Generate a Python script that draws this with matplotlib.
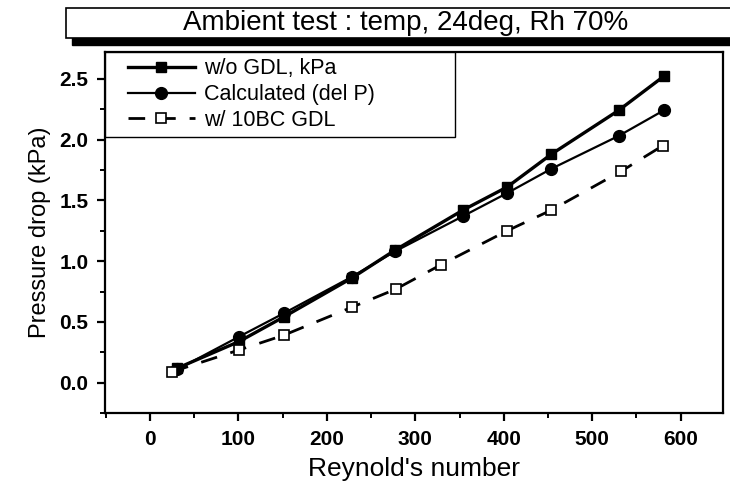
import matplotlib
matplotlib.use("Agg")
import matplotlib.pyplot as plt
from matplotlib.patches import Rectangle
from matplotlib.ticker import MultipleLocator
from matplotlib.legend_handler import HandlerLine2D
from matplotlib.lines import Line2D

plt.rcParams['font.family'] = ['Liberation Sans', 'DejaVu Sans']

# Data
re_wo = [31, 101, 151, 228, 277, 354, 404, 454, 530, 581]
dp_wo = [0.12, 0.34, 0.54, 0.86, 1.09, 1.42, 1.61, 1.88, 2.24, 2.52]
re_calc = [31, 101, 151, 228, 277, 354, 404, 454, 530, 581]
dp_calc = [0.11, 0.38, 0.57, 0.87, 1.08, 1.37, 1.56, 1.76, 2.03, 2.24]
re_gdl = [25, 101, 151, 228, 278, 329, 404, 454, 533, 580]
dp_gdl = [0.09, 0.27, 0.39, 0.62, 0.77, 0.97, 1.25, 1.42, 1.74, 1.95]
labels = ["w/o GDL, kPa", "Calculated (del P)", "w/ 10BC GDL"]
title = "Ambient test : temp, 24deg, Rh 70%"
x_ticks = [0, 100, 200, 300, 400, 500, 600]
y_ticks = [0.0, 0.5, 1.0, 1.5, 2.0, 2.5]

fig = plt.figure(figsize=(7.3, 4.86), dpi=100)
ax = fig.add_axes([0.1438, 0.150, 0.8466, 0.743])

ax.plot(re_wo, dp_wo, '-', color='black', lw=2.4, marker='s', ms=7,
        mfc='black', mec='black', label=labels[0])
ax.plot(re_calc, dp_calc, '-', color='black', lw=1.6, marker='o', ms=8.5,
        mfc='black', mec='black', label=labels[1])
ax.plot(re_gdl, dp_gdl, '--', color='black', lw=2.0, dashes=(6, 5), marker='s', ms=7.5,
        mfc='white', mec='black', mew=1.2, label=labels[2])

ax.set_xlim(-51, 648)
ax.set_ylim(-0.25, 2.72)
ax.set_xticks(x_ticks)
ax.set_yticks(y_ticks)
ax.set_yticklabels([f"{v:.1f}" for v in y_ticks])
ax.xaxis.set_minor_locator(MultipleLocator(50))
ax.yaxis.set_minor_locator(MultipleLocator(0.25))
ax.tick_params(which='major', direction='out', length=6, width=1.6, labelsize=15, pad=6)
ax.tick_params(which='minor', direction='out', length=3.5, width=1.4)
for lab in ax.get_xticklabels() + ax.get_yticklabels():
    lab.set_fontweight('bold')
for s in ax.spines.values():
    s.set_linewidth(1.6)

ax.set_xlabel("Reynold's number", fontsize=19, labelpad=6)
ax.set_ylabel("Pressure drop (kPa)", fontsize=17, labelpad=6)

handler = HandlerLine2D(xpad=0.75)
leg = ax.legend(loc='upper left', bbox_to_anchor=(0.0, 0.0, 0.566, 1.0), mode='expand',
                fontsize=15.5, frameon=True, fancybox=False, edgecolor='black', framealpha=1,
                handlelength=3.9, handletextpad=0.4, borderpad=0.3,
                labelspacing=0.22, borderaxespad=0.0,
                handler_map={Line2D: handler})
leg.get_frame().set_linewidth(1.0)

# Title box with shadow
fig.patches.append(Rectangle((0.098, 0.908), 0.92, 0.068, transform=fig.transFigure,
                             facecolor='black', edgecolor='black', zorder=1))
fig.patches.append(Rectangle((0.090, 0.921), 0.92, 0.063, transform=fig.transFigure,
                             facecolor='white', edgecolor='black', lw=1.2, zorder=2))
fig.text(0.555, 0.953, title, ha='center', va='center', fontsize=20, zorder=3)

fig.savefig("out.png", dpi=100)
